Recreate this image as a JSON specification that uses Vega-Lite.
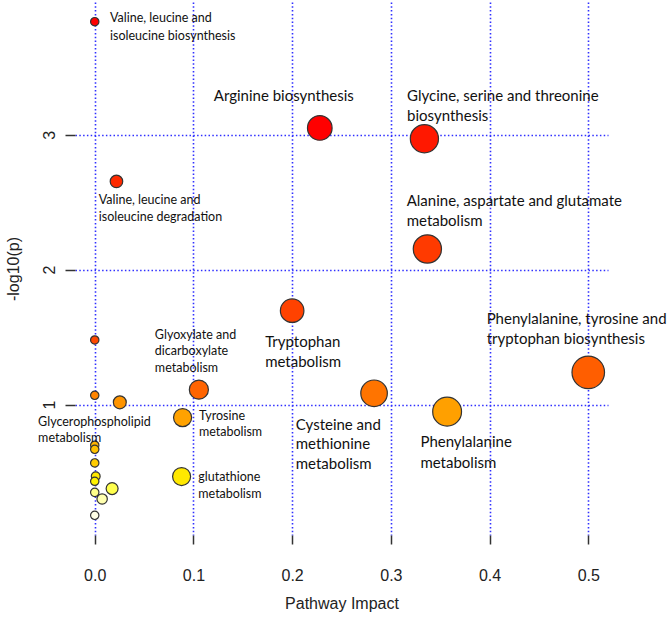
{
  "$schema": "https://vega.github.io/schema/vega-lite/v6.json",
  "width": 533,
  "height": 533,
  "autosize": {"type": "none"},
  "padding": {"left": 75, "top": 2, "right": 61, "bottom": 83},
  "background": "white",
  "config": {
    "view": {"stroke": null},
    "axis": {
      "labelFont": "Liberation Sans", "titleFont": "Liberation Sans",
      "labelFontSize": 16, "titleFontSize": 16, "titleFontWeight": "normal",
      "labelColor": "#222222", "titleColor": "#222222",
      "domain": false, "tickColor": "#333333", "tickWidth": 1.5,
      "grid": true, "gridColor": "#3030ff", "gridDash": [1.5, 2.3], "gridWidth": 1.6, "gridOpacity": 1
    }
  },
  "data": {"values": [
    {"id": 1, "label": "Valine, leucine and\nisoleucine biosynthesis", "impact": 0.0, "logp": 3.837},
    {"id": 2, "label": "Arginine biosynthesis", "impact": 0.228, "logp": 3.05},
    {"id": 3, "label": "Glycine, serine and threonine\nbiosynthesis", "impact": 0.334, "logp": 2.97},
    {"id": 4, "label": "Valine, leucine and\nisoleucine degradation", "impact": 0.022, "logp": 2.654},
    {"id": 5, "label": "Alanine, aspartate and glutamate\nmetabolism", "impact": 0.337, "logp": 2.153},
    {"id": 6, "label": "Tryptophan\nmetabolism", "impact": 0.2, "logp": 1.696},
    {"id": 7, "label": "Phenylalanine, tyrosine and\ntryptophan biosynthesis", "impact": 0.5, "logp": 1.239},
    {"id": 8, "label": "", "impact": 0.0, "logp": 1.479},
    {"id": 9, "label": "Glyoxylate and\ndicarboxylate\nmetabolism", "impact": 0.1055, "logp": 1.111},
    {"id": 10, "label": "Cysteine and\nmethionine\nmetabolism", "impact": 0.283, "logp": 1.084},
    {"id": 11, "label": "", "impact": 0.0, "logp": 1.069},
    {"id": 12, "label": "Glycerophospholipid\nmetabolism", "impact": 0.0254, "logp": 1.017},
    {"id": 13, "label": "Phenylalanine\nmetabolism", "impact": 0.357, "logp": 0.948},
    {"id": 14, "label": "Tyrosine\nmetabolism", "impact": 0.089, "logp": 0.904},
    {"id": 15, "label": "", "impact": 0.0, "logp": 0.699},
    {"id": 16, "label": "", "impact": 0.0, "logp": 0.669},
    {"id": 17, "label": "", "impact": 0.0, "logp": 0.568},
    {"id": 18, "label": "", "impact": 0.001, "logp": 0.469},
    {"id": 19, "label": "glutathione\nmetabolism", "impact": 0.088, "logp": 0.467},
    {"id": 20, "label": "", "impact": 0.0, "logp": 0.432},
    {"id": 21, "label": "", "impact": 0.0176, "logp": 0.378},
    {"id": 22, "label": "", "impact": 0.0, "logp": 0.35},
    {"id": 23, "label": "", "impact": 0.0075, "logp": 0.301},
    {"id": 24, "label": "", "impact": 0.0, "logp": 0.18}
  ]},
  "encoding": {
    "x": {"field": "impact", "type": "quantitative",
      "scale": {"domain": [-0.02, 0.52], "nice": false, "zero": false},
      "axis": {"title": "Pathway Impact", "values": [0, 0.1, 0.2, 0.3, 0.4, 0.5], "format": ".1f",
        "tickSize": 9, "labelPadding": 23, "titlePadding": 12}},
    "y": {"field": "logp", "type": "quantitative",
      "scale": {"domain": [0.034, 3.983], "nice": false, "zero": false},
      "axis": {"title": "-log10(p)", "values": [1, 2, 3], "format": "d",
        "tickSize": 10, "labelAngle": -90, "labelAlign": "center", "labelBaseline": "bottom",
        "labelPadding": 8, "titlePadding": 20}}
  },
  "layer": [
    {
      "data": {"values": [{}]},
      "mark": {"type": "rule", "color": "#333333", "strokeWidth": 1.5},
      "encoding": {
        "x": {"datum": 0, "type": "quantitative"},
        "x2": {"datum": 0.5},
        "y": {"datum": 0.034, "type": "quantitative"}
      }
    },
    {
      "data": {"values": [{}]},
      "mark": {"type": "rule", "color": "#333333", "strokeWidth": 1.5},
      "encoding": {
        "x": {"datum": -0.02, "type": "quantitative"},
        "y": {"datum": 1, "type": "quantitative"},
        "y2": {"datum": 3}
      }
    },
    {
      "mark": {"type": "circle", "opacity": 1, "stroke": "#333333", "strokeWidth": 1.2},
      "encoding": {
        "size": {"field": "impact", "type": "quantitative", "legend": null,
          "scale": {"type": "pow", "exponent": 0.78, "domain": [0, 0.5], "range": [70, 1060]}},
        "color": {"field": "logp", "type": "quantitative", "legend": null,
          "scale": {"interpolate": "rgb",
            "domain": [0.18, 0.30, 0.35, 0.378, 0.432, 0.468, 0.568, 0.669, 0.699, 0.904, 0.948, 1.017, 1.069, 1.084, 1.111, 1.239, 1.479, 1.696, 2.153, 2.654, 2.97, 3.05, 3.837],
            "range": ["#FFFFE6", "#FFFFB0", "#FFFF8A", "#FFFF4D", "#FFF200", "#FFE800", "#FFCC00", "#FFC000", "#FFB400", "#FFA200", "#FFA000", "#FF9400", "#FF8400", "#FF7400", "#FF6400", "#FF5E00", "#FF4800", "#FF4200", "#FF3A00", "#FF2A00", "#FF1800", "#FF0000", "#FF0000"]}},
        "order": {"field": "id", "type": "quantitative"}
      }
    },
    {"transform": [{"filter": "datum.id == 1"}], "mark": {"type": "text", "align": "left", "baseline": "top", "lineBreak": "\n", "font": "Lato", "fontSize": 12.5, "lineHeight": 17.5, "color": "#111111", "dx": 15.3, "dy": -9.3}, "encoding": {"text": {"field": "label"}}},
    {"transform": [{"filter": "datum.id == 2"}], "mark": {"type": "text", "align": "left", "baseline": "top", "lineBreak": "\n", "font": "Lato", "fontSize": 15, "lineHeight": 20.5, "color": "#111111", "dx": -106, "dy": -39.1}, "encoding": {"text": {"field": "label"}}},
    {"transform": [{"filter": "datum.id == 3"}], "mark": {"type": "text", "align": "left", "baseline": "top", "lineBreak": "\n", "font": "Lato", "fontSize": 15, "lineHeight": 20.5, "color": "#111111", "dx": -17.3, "dy": -49.8}, "encoding": {"text": {"field": "label"}}},
    {"transform": [{"filter": "datum.id == 4"}], "mark": {"type": "text", "align": "left", "baseline": "top", "lineBreak": "\n", "font": "Lato", "fontSize": 12.5, "lineHeight": 17, "color": "#111111", "dx": -17.7, "dy": 12.7}, "encoding": {"text": {"field": "label"}}},
    {"transform": [{"filter": "datum.id == 5"}], "mark": {"type": "text", "align": "left", "baseline": "top", "lineBreak": "\n", "font": "Lato", "fontSize": 15, "lineHeight": 20.5, "color": "#111111", "dx": -20.7, "dy": -55.4}, "encoding": {"text": {"field": "label"}}},
    {"transform": [{"filter": "datum.id == 6"}], "mark": {"type": "text", "align": "left", "baseline": "top", "lineBreak": "\n", "font": "Lato", "fontSize": 15, "lineHeight": 20, "color": "#111111", "dx": -27, "dy": 24.5}, "encoding": {"text": {"field": "label"}}},
    {"transform": [{"filter": "datum.id == 7"}], "mark": {"type": "text", "align": "left", "baseline": "top", "lineBreak": "\n", "font": "Lato", "fontSize": 15, "lineHeight": 20, "color": "#111111", "dx": -101.6, "dy": -60.2}, "encoding": {"text": {"field": "label"}}},
    {"transform": [{"filter": "datum.id == 9"}], "mark": {"type": "text", "align": "left", "baseline": "top", "lineBreak": "\n", "font": "Lato", "fontSize": 12.5, "lineHeight": 16.5, "color": "#111111", "dx": -44, "dy": -60.9}, "encoding": {"text": {"field": "label"}}},
    {"transform": [{"filter": "datum.id == 10"}], "mark": {"type": "text", "align": "left", "baseline": "top", "lineBreak": "\n", "font": "Lato", "fontSize": 15, "lineHeight": 19.7, "color": "#111111", "dx": -78.3, "dy": 24.5}, "encoding": {"text": {"field": "label"}}},
    {"transform": [{"filter": "datum.id == 12"}], "mark": {"type": "text", "align": "left", "baseline": "top", "lineBreak": "\n", "font": "Lato", "fontSize": 12.5, "lineHeight": 16, "color": "#111111", "dx": -81.7, "dy": 13.4}, "encoding": {"text": {"field": "label"}}},
    {"transform": [{"filter": "datum.id == 13"}], "mark": {"type": "text", "align": "left", "baseline": "top", "lineBreak": "\n", "font": "Lato", "fontSize": 15, "lineHeight": 20.4, "color": "#111111", "dx": -26.7, "dy": 23.5}, "encoding": {"text": {"field": "label"}}},
    {"transform": [{"filter": "datum.id == 14"}], "mark": {"type": "text", "align": "left", "baseline": "top", "lineBreak": "\n", "font": "Lato", "fontSize": 12.5, "lineHeight": 16.5, "color": "#111111", "dx": 16.3, "dy": -7.9}, "encoding": {"text": {"field": "label"}}},
    {"transform": [{"filter": "datum.id == 19"}], "mark": {"type": "text", "align": "left", "baseline": "top", "lineBreak": "\n", "font": "Lato", "fontSize": 12.5, "lineHeight": 16.7, "color": "#111111", "dx": 16.7, "dy": -5.6}, "encoding": {"text": {"field": "label"}}}
  ]
}
